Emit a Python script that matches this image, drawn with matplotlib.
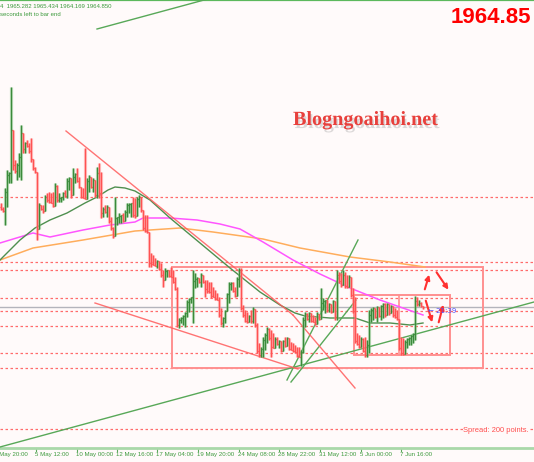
import matplotlib
matplotlib.use('Agg')
import matplotlib.pyplot as plt
import matplotlib.patheffects as pe
import matplotlib.transforms as mtransforms
from matplotlib.collections import LineCollection
from matplotlib.patches import Rectangle, FancyArrowPatch

# ---------------- data (H4 bars, price) ----------------
highs = [
    2017, 2015, 2024.5, 2033.5, 2032.5, 2075, 2053.5, 2038.5, 2037, 2042,
    2056, 2050, 2047.5, 2048.5, 2047, 2049.5, 2038.5, 2035, 2032, 2017,
    2016, 2016, 2021, 2022, 2022.5, 2022, 2022.5, 2027, 2026, 2022,
    2020, 2022.5, 2023.5, 2029.5, 2030, 2028.5, 2034.5, 2032, 2034.5, 2030,
    2025, 2024.5, 2044.5, 2029.5, 2031, 2028.5, 2029.5, 2027, 2035, 2037,
    2032.5, 2015, 2016, 2016, 2013.5, 2010, 2005, 2020, 2010, 2012,
    2010, 2012, 2013.5, 2017, 2017, 2017, 2020, 2019.5, 2020, 2021,
    2019.5, 2013.5, 2011, 2011, 1996, 1992, 1991, 1989.5, 1988.5, 1987.5,
    1987, 1983.5, 1984.5, 1983.5, 1982.5, 1985, 1983.5, 1980, 1975, 1959.5,
    1960, 1961, 1962.5, 1968.5, 1969.5, 1970, 1983.5, 1982, 1980, 1979.5,
    1982, 1981, 1978.5, 1978.5, 1977.5, 1977.5, 1975, 1973.5, 1972, 1970,
    1964.5, 1960, 1963.5, 1972, 1977.5, 1977.5, 1977.5, 1975, 1980, 1984.5,
    1984.5, 1966, 1963.5, 1962.5, 1961, 1963.5, 1965, 1963.5, 1957, 1947,
    1945, 1950, 1952, 1955, 1954.5, 1953.5, 1952, 1950, 1950, 1948.5,
    1947.5, 1948.5, 1950, 1950, 1949.5, 1947.5, 1947, 1946, 1945, 1945,
    1943.5, 1960, 1962.5, 1962, 1962.5, 1961, 1961, 1960, 1962.5, 1961,
    1974.5, 1969.5, 1968.5, 1967, 1967, 1966, 1968.5, 1967.5, 1983.5, 1982.5,
    1982, 1983.5, 1982.5, 1981, 1981, 1979.5, 1974.5, 1970, 1952, 1951,
    1950, 1949.5, 1950, 1948.5, 1963.5, 1964.5, 1965, 1964.5, 1965.5, 1964.5,
    1966, 1967, 1967, 1967, 1966, 1966, 1965, 1964.5, 1963.5, 1953.5,
    1950, 1949.5, 1948.5, 1949.5, 1950, 1951, 1952, 1970.5, 1970, 1968.5,
    1967.5, 1965.434,
]
lows = [
    2013.5, 2012.5, 2006, 2015, 2027, 2027, 2033.5, 2032, 2028.5, 2030,
    2028.5, 2042, 2042, 2045, 2042, 2037.5, 2033.5, 2032, 1998.5, 2011,
    2013.5, 2012, 2014.5, 2017.5, 2017, 2017, 2015, 2017.5, 2017.5, 2017.5,
    2017.5, 2018.5, 2020, 2019.5, 2023.5, 2019.5, 2024.5, 2027, 2027.5, 2024.5,
    2019.5, 2019.5, 2019, 2022, 2022.5, 2024.5, 2022.5, 2020, 2019.5, 2019.5,
    2009.5, 2010, 2012, 2010, 2007, 2003.5, 1999.5, 2002, 2006, 2007,
    2007, 2007.5, 2008.5, 2010, 2012, 2010, 2010, 2009.5, 2014.5, 2015,
    2012.5, 2003.5, 2002.5, 2002, 1985, 1985, 1987, 1986, 1984.5, 1983.5,
    1980, 1975, 1980, 1980, 1980, 1980, 1977, 1973.5, 1955, 1954.5,
    1957, 1956, 1955, 1960, 1962.5, 1967, 1957, 1974.5, 1975, 1977,
    1975, 1977, 1970, 1972, 1972, 1969.5, 1970, 1968.5, 1968.5, 1960,
    1956, 1955, 1957, 1965, 1967, 1973.5, 1972.5, 1970, 1973.5, 1975,
    1963.5, 1960, 1957.5, 1957, 1957.5, 1957, 1957, 1955, 1942, 1940,
    1940, 1940, 1943.5, 1947, 1948.5, 1940, 1944.5, 1945, 1946, 1944.5,
    1942.5, 1943.5, 1945, 1946, 1943.5, 1943.5, 1942.5, 1942, 1940, 1940,
    1935.5, 1942, 1955, 1958.5, 1957.5, 1957.5, 1958.5, 1956, 1957.5, 1958.5,
    1960, 1963.5, 1962, 1962.5, 1962.5, 1962, 1962.5, 1958.5, 1958.5, 1977,
    1975, 1976, 1974.5, 1974.5, 1975, 1970, 1962, 1947, 1946, 1944.5,
    1946, 1942.5, 1940, 1940, 1942, 1957.5, 1958.5, 1959.5, 1957.5, 1960,
    1958.5, 1959.5, 1960, 1961, 1961, 1962, 1960, 1959.5, 1958.5, 1943.5,
    1941, 1941, 1942.5, 1944.5, 1946, 1946, 1947, 1948.5, 1965.5, 1965.5,
    1965, 1964.169,
]
closes = [
    2014, 2013, 2022.5, 2031, 2032, 2053.5, 2036, 2033, 2036, 2040,
    2052, 2044, 2047, 2045.5, 2043, 2039, 2034.5, 2032.5, 2004, 2016,
    2014, 2013, 2020, 2018.5, 2017.5, 2017, 2015.5, 2025.5, 2018.5, 2019.5,
    2020, 2022, 2020.5, 2028, 2029.5, 2021, 2030, 2031.5, 2028, 2025,
    2020, 2019.5, 2019, 2028, 2030, 2025, 2028.5, 2021, 2032, 2022,
    2012, 2014, 2012.5, 2015, 2008, 2004.5, 2000.5, 2009.5, 2010, 2010.5,
    2011, 2008, 2012.5, 2016, 2016.5, 2017, 2011, 2010.5, 2019, 2020,
    2013.5, 2004.5, 2003, 2002.5, 1987, 1986.5, 1986, 1985.5, 1988, 1984,
    1981, 1978.5, 1983, 1983.5, 1980.5, 1980, 1977.5, 1974, 1956, 1958.5,
    1959.5, 1960.5, 1962, 1967.5, 1969, 1969.8, 1978, 1979, 1979.5, 1977.5,
    1981, 1977.5, 1974, 1973, 1972.5, 1970.5, 1970, 1969, 1968.5, 1961,
    1957, 1959.5, 1963, 1971.5, 1976.5, 1977, 1973, 1970.5, 1979, 1983.5,
    1964.5, 1961, 1958, 1957.5, 1960.5, 1958, 1964, 1956, 1943, 1941,
    1944, 1948.5, 1951, 1954, 1949.5, 1945, 1944.5, 1949, 1946.5, 1948,
    1943, 1948, 1945.5, 1949.5, 1944, 1943.5, 1943, 1942.5, 1940.5, 1940,
    1942.5, 1958.5, 1961.5, 1959, 1962, 1958, 1957.5, 1956.5, 1961.5, 1959,
    1967, 1968, 1968.5, 1963.5, 1966.5, 1962.5, 1968, 1960, 1981, 1978,
    1976, 1981, 1975.5, 1975, 1980, 1971, 1963, 1948, 1946.5, 1945,
    1949, 1943, 1941, 1946, 1961, 1963.5, 1964.5, 1960, 1965, 1960.5,
    1965.5, 1966.5, 1961, 1966.5, 1962, 1965.5, 1961, 1960, 1959, 1944.5,
    1942, 1941.5, 1947.5, 1949, 1949.5, 1950.5, 1951.5, 1968, 1966.5, 1967,
    1965.282, 1964.850,
]
first_open = 2015.0
bid_price = 1964.85

tick_pos = [-2.75, 17.5, 38, 58, 78, 98.5, 119, 139, 159.5, 180, 200]
tick_labels = ['2 May 20:00', '5 May 12:00', '10 May 00:00', '12 May 16:00',
               '17 May 04:00', '19 May 20:00', '24 May 08:00', '28 May 22:00',
               '31 May 12:00', '5 Jun 00:00', '7 Jun 16:00']

levels = [2020.0, 1987.5, 1983.5, 1969.5, 1963.0, 1955.5, 1942.0, 1934.5, 1904.0]

# moving averages (bar index, price)
ma_green_x = [-0.5, 9.5, 17, 24.5, 33, 42, 48, 53.5, 57, 62, 67, 74.5, 84.5, 99.5,
              114.5, 129.5, 139.5, 147, 152, 164.5, 177, 184.5, 194.5, 204.5, 211]
ma_green_y = [1988.5, 1998.5, 2004.5, 2008.5, 2012, 2017, 2020, 2023.5, 2025, 2024.5,
              2023, 2018.5, 2009.5, 1997, 1984.5, 1972.5, 1966, 1962, 1960.5, 1959.5,
              1959.5, 1957, 1957, 1956, 1957]
ma_mag_x = [-0.5, 16, 24.5, 41, 54.5, 67, 71, 84.5, 98, 109.5, 119.5, 131, 146,
            159.5, 174.5, 189.5, 199.5, 211]
ma_mag_y = [1997, 2002, 2000, 2003.5, 2006, 2007.5, 2009.5, 2009.5, 2008.5, 2006.5,
            2004, 1997.5, 1988.5, 1981.5, 1974.5, 1968.5, 1965, 1961]
ma_org_x = [-0.5, 16, 41, 67, 89.5, 106, 131, 149.5, 174.5, 194.5, 212]
ma_org_y = [1988.5, 1994.5, 1998.5, 2003, 2004.5, 2002.5, 1999, 1994.5, 1990, 1987.5, 1985]

# drawn objects (bar index, price)
green_lines = [((-0.5, 1895.0), (266.5, 1967.5)),
               ((48, 2104.0), (110, 2120.8)),
               ((143, 1928.5), (178.5, 1998.5)),
               ((145, 1927.5), (177.5, 1968.5))]
red_lines = [((32.5, 2053.0), (146, 1961.0)),
             ((146, 1961.0), (177, 1924.5)),
             ((47, 1967.0), (148.5, 1934.0))]
boxes = [((85.5, 1934.5), (241, 1985.0)),
         ((176.5, 1941.0), (224.5, 1971.0))]
box_divider = ((199, 1941.0), (199, 1971.0))
arrows = [((211.5, 1972.5), (214.5, 1982.5)),
          ((217, 1983.5), (224.5, 1972.5)),
          ((212, 1969.5), (216, 1956.0)),
          ((218.5, 1956.0), (221.5, 1967.5))]

# ---------------- figure ----------------
BG = '#fffafa'
W, H = 534, 462
fig = plt.figure(figsize=(W / 100, H / 100), dpi=100, facecolor=BG)
ax = fig.add_axes([0, 14 / H, 1, 448 / H])
ax.set_facecolor(BG)
ax.set_xlim(-0.5, 266.5)
ax.set_ylim(1894.5, 2118.5)
ax.set_xticks([])
ax.set_yticks([])
for s in ('left', 'right'):
    ax.spines[s].set_visible(False)
ax.spines['top'].set_color('#5cb85c')
ax.spines['top'].set_linewidth(1.6)
ax.spines['bottom'].set_color('#a9d8a9')
ax.spines['bottom'].set_linewidth(2.0)

# horizontal levels
for lv in levels:
    ax.axhline(lv, color='#ff6b6b', lw=0.9, ls=(0, (2, 2)), zorder=1)
ax.axhline(bid_price, color='#b4b4bc', lw=1.0, zorder=1)

# boxes
for (x0, y0), (x1, y1) in boxes:
    ax.add_patch(Rectangle((x0, y0), x1 - x0, y1 - y0, fill=False,
                           ec='#ff9090', lw=1.4, zorder=2))
ax.plot([box_divider[0][0], box_divider[1][0]], [box_divider[0][1], box_divider[1][1]],
        color='#ff9090', lw=1.2, zorder=2)

# moving averages
ax.plot(ma_org_x, ma_org_y, color='#ffad5c', lw=1.1, zorder=3)
ax.plot(ma_mag_x, ma_mag_y, color='#ff55ff', lw=1.1, zorder=3)
ax.plot(ma_green_x, ma_green_y, color='#4f8f4f', lw=1.0, zorder=3)

# trend lines
for (a, b) in green_lines:
    ax.plot([a[0], b[0]], [a[1], b[1]], color='#58a858', lw=1.0, zorder=3)
for (a, b) in red_lines:
    ax.plot([a[0], b[0]], [a[1], b[1]], color='#ff5c5c', lw=1.0, alpha=0.85, zorder=3)

# OHLC bars
opens = [first_open] + closes[:-1]
halo_g, halo_r, core_g, core_r = [], [], [], []
for i, (o, h, l, c) in enumerate(zip(opens, highs, lows, closes)):
    hh = max(h, o, c)
    ll = min(l, o, c)
    up = c >= o
    v = [(i, ll), (i, hh)]
    (halo_g if up else halo_r).append(v)
    core = core_g if up else core_r
    core.append(v)
    core.append([(i - 0.7, o), (i, o)])
    core.append([(i, c), (i + 0.7, c)])
ax.add_collection(LineCollection(halo_g, colors='#7cc07c', linewidths=2.3, alpha=0.5, zorder=4))
ax.add_collection(LineCollection(halo_r, colors='#ff8c8c', linewidths=2.3, alpha=0.5, zorder=4))
ax.add_collection(LineCollection(core_g, colors='#3b8a3b', linewidths=0.9, zorder=5))
ax.add_collection(LineCollection(core_r, colors='#ff5252', linewidths=0.9, zorder=5))

# arrows
for (a, b) in arrows:
    ax.add_patch(FancyArrowPatch(a, b, arrowstyle='-|>', mutation_scale=7,
                                 color='#ff3030', lw=1.5, zorder=6))

# timer text
ax.text(213.5, 1963.0, '\u2190 21:39', color='#5050ff', fontsize=5,
        family='DejaVu Sans', va='center', ha='left', zorder=7)

# spread text
ax.text(231, 1903.0, 'Spread: 200 points.', color='#ff4d4d', fontsize=5.4,
        family='Liberation Sans', va='center', ha='left', zorder=7,
        bbox=dict(facecolor=BG, edgecolor='none', pad=0.3))

# x axis labels and tick marks
trans = mtransforms.blended_transform_factory(ax.transData, ax.transAxes)
for p, lab in zip(tick_pos, tick_labels):
    ax.plot([p, p], [0, -3 / 448], transform=trans, color='#5aa85a', lw=0.8, clip_on=False)
    ax.text(p - 0.5, -4 / 448, lab, transform=trans, ha='left', va='top',
            fontsize=4.4, family='Liberation Sans', color='#3d9a3d', clip_on=False)

# header texts
fig.text(0, 1 - 7.5 / H, '4  1965.282 1965.434 1964.169 1964.850', fontsize=4.3,
         family='Liberation Sans', color='#3d9a3d', ha='left', va='baseline')
fig.text(0, 1 - 16.5 / H, 'seconds left to bar end', fontsize=4.3,
         family='Liberation Sans', color='#3d9a3d', ha='left', va='baseline')
fig.text(531 / W, 1 - 23 / H, '1964.85', fontsize=16, fontweight='bold',
         family='Liberation Sans', color='#ff0000', ha='right', va='baseline')

# watermark
fig.text(293 / W, 1 - 125 / H, 'Blogngoaihoi.net', fontsize=14.5, fontweight='bold',
         family='Liberation Serif', color='#e8403c', ha='left', va='baseline',
         path_effects=[pe.SimplePatchShadow(offset=(1.2, -2.2), shadow_rgbFace='#9a9a9a', alpha=0.35),
                       pe.Normal()])

fig.savefig('out.png', dpi=100, facecolor=BG)
